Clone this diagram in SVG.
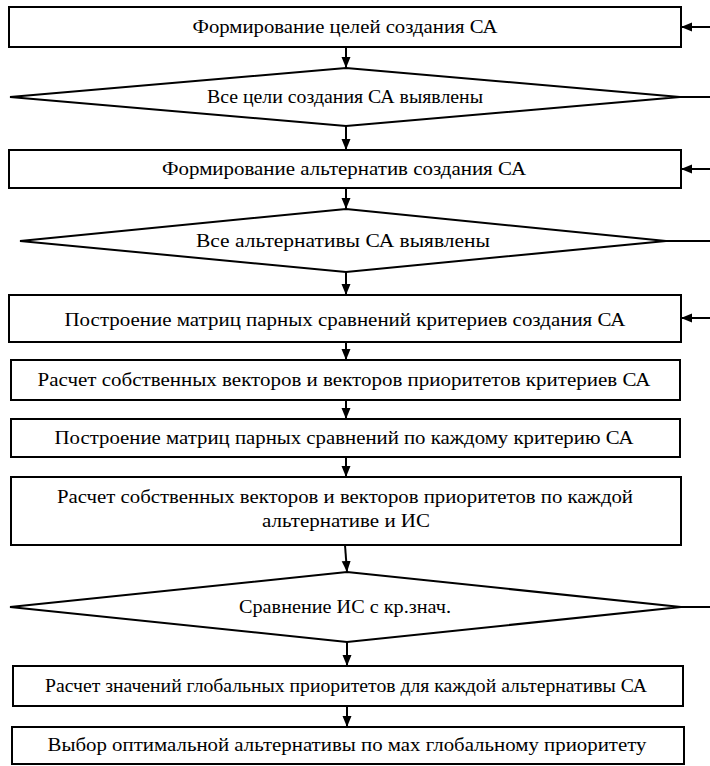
<svg xmlns="http://www.w3.org/2000/svg" width="710" height="766" viewBox="0 0 710 766" font-family="'Liberation Serif', 'DejaVu Serif', 'Times New Roman', serif">
<style>
.box{fill:#fff;stroke:#000;stroke-width:2}
.dia{fill:#fff;stroke:#000;stroke-width:2;stroke-linejoin:miter}
.t{font-size:19px;fill:#000;text-anchor:middle}
.c{fill:none;stroke:#000;stroke-width:2}
</style>
<defs>
<marker id="ah" markerUnits="userSpaceOnUse" markerWidth="12" markerHeight="10" refX="11" refY="5" orient="auto">
<path d="M0,0.5 L11,5 L0,9.5 z" fill="#000"/>
</marker>
</defs>
<rect width="710" height="766" fill="#fff"/>
<g id="connectors">
<line class="c" x1="346" y1="47" x2="346" y2="68" marker-end="url(#ah)"/>
<line class="c" x1="346" y1="126" x2="346" y2="150" marker-end="url(#ah)"/>
<line class="c" x1="346" y1="188" x2="346" y2="209" marker-end="url(#ah)"/>
<line class="c" x1="346" y1="272" x2="346" y2="295" marker-end="url(#ah)"/>
<line class="c" x1="346" y1="342" x2="346" y2="360" marker-end="url(#ah)"/>
<line class="c" x1="346" y1="400" x2="346" y2="419" marker-end="url(#ah)"/>
<line class="c" x1="346" y1="457" x2="346" y2="477" marker-end="url(#ah)"/>
<line class="c" x1="345" y1="545" x2="347" y2="572" marker-end="url(#ah)"/>
<line class="c" x1="347" y1="642" x2="347" y2="666" marker-end="url(#ah)"/>
<line class="c" x1="347" y1="706" x2="347" y2="727" marker-end="url(#ah)"/>
<line class="c" x1="710" y1="27" x2="681" y2="27" marker-end="url(#ah)"/>
<line class="c" x1="680" y1="97" x2="710" y2="97"/>
<line class="c" x1="710" y1="169" x2="681" y2="169" marker-end="url(#ah)"/>
<line class="c" x1="666" y1="241" x2="710" y2="241"/>
<line class="c" x1="710" y1="318" x2="681" y2="318" marker-end="url(#ah)"/>
<line class="c" x1="681" y1="607" x2="710" y2="607"/>
</g>
<g id="n1"><rect class="box" x="9" y="7" width="672" height="40"/><text class="t" font-family="Liberation Serif" x="345" y="33" textLength="305" lengthAdjust="spacingAndGlyphs">Формирование целей создания СА</text></g>
<g id="d1"><polygon class="dia" points="346,68 680,97 346,126 10,97"/><text class="t" font-family="Liberation Serif" x="345" y="103" textLength="276" lengthAdjust="spacingAndGlyphs">Все цели создания СА выявлены</text></g>
<g id="n2"><rect class="box" x="9" y="150" width="672" height="38"/><text class="t" font-family="Liberation Serif" x="344" y="175" textLength="364" lengthAdjust="spacingAndGlyphs">Формирование альтернатив создания СА</text></g>
<g id="d2"><polygon class="dia" points="346,209 666,241 346,272 20,241"/><text class="t" font-family="Liberation Serif" x="343" y="247" textLength="294" lengthAdjust="spacingAndGlyphs">Все альтернативы СА выявлены</text></g>
<g id="n3"><rect class="box" x="9" y="295" width="672" height="47"/><text class="t" font-family="Liberation Serif" x="345" y="326" textLength="561" lengthAdjust="spacingAndGlyphs">Построение матриц парных сравнений критериев создания СА</text></g>
<g id="n4"><rect class="box" x="11" y="360" width="669" height="40"/><text class="t" font-family="Liberation Serif" x="344" y="386" textLength="613" lengthAdjust="spacingAndGlyphs">Расчет собственных векторов и векторов приоритетов критериев СА</text></g>
<g id="n5"><rect class="box" x="11" y="419" width="669" height="38"/><text class="t" font-family="Liberation Serif" x="344" y="444" textLength="579" lengthAdjust="spacingAndGlyphs">Построение матриц парных сравнений по каждому критерию СА</text></g>
<g id="n6"><rect class="box" x="11" y="477" width="670" height="68"/><text class="t" font-family="Liberation Serif" x="345" y="503" textLength="576" lengthAdjust="spacingAndGlyphs">Расчет собственных векторов и векторов приоритетов по каждой</text><text class="t" font-family="Liberation Serif" x="346" y="527" textLength="168" lengthAdjust="spacingAndGlyphs">альтернативе и ИС</text></g>
<g id="d3"><polygon class="dia" points="347,572 681,607 347,642 10,607"/><text class="t" font-family="Liberation Serif" x="345" y="613" textLength="212" lengthAdjust="spacingAndGlyphs">Сравнение ИС с кр.знач.</text></g>
<g id="n7"><rect class="box" x="13" y="666" width="670" height="40"/><text class="t" font-family="Liberation Serif" x="346" y="692" textLength="602" lengthAdjust="spacingAndGlyphs">Расчет значений глобальных приоритетов для каждой альтернативы СА</text></g>
<g id="n8"><rect class="box" x="12" y="727" width="672" height="37"/><text class="t" font-family="Liberation Serif" x="347" y="751" textLength="599" lengthAdjust="spacingAndGlyphs">Выбор оптимальной альтернативы по мах глобальному приоритету</text></g>
</svg>
